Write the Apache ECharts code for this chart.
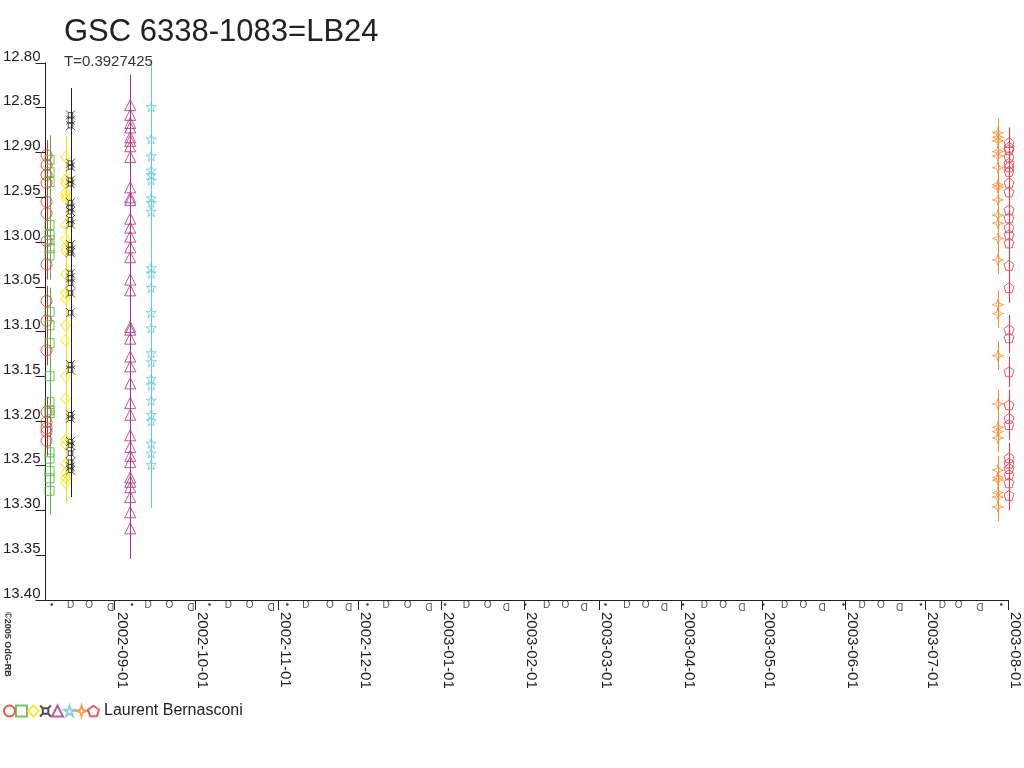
<!DOCTYPE html>
<html>
<head>
<meta charset="utf-8">
<title>GSC 6338-1083=LB24</title>
<script src="https://cdn.jsdelivr.net/npm/echarts@6/dist/echarts.min.js"></script>
<style>
  html, body { margin: 0; padding: 0; background: #fff; }
  #chart { width: 1024px; height: 768px; }
</style>
</head>
<body>
<div id="chart"></div>
<script>
const titleText = "GSC 6338-1083=LB24";
const periodText = "T=0.3927425";
const observer = "Laurent Bernasconi";
const copyrightText = "\u00a92005 OdG-RB";

// axis ranges
const xMin = "2002-08-06 04:00";
const xMax = "2003-08-01 00:00";
const yMin = 12.8;
const yMax = 13.4;
const yStep = 0.05;
const monthTicks = [
  "2002-09-01", "2002-10-01", "2002-11-01", "2002-12-01", "2003-01-01", "2003-02-01",
  "2003-03-01", "2003-04-01", "2003-05-01", "2003-06-01", "2003-07-01", "2003-08-01",
];

// one night per series
const nights = [
  "2002-08-06 13:00", "2002-08-07 16:00", "2002-08-13 16:00", "2002-08-15 12:00",
  "2002-09-06 20:00", "2002-09-14 16:00", "2003-07-28 06:00", "2003-08-01 09:00",
];
const errors = [0.017, 0.027, 0.023, 0.03, 0.034, 0.048, 0.016, 0.017];

const mag1 = [12.903, 12.914, 12.925, 12.934, 12.955, 12.968, 12.999, 13.025,
  13.066, 13.088, 13.121, 13.19, 13.201, 13.208, 13.212, 13.222];
const mag2 = [12.908, 12.922, 12.933, 12.981, 12.992, 12.998, 13.007, 13.015,
  13.078, 13.093, 13.113, 13.15, 13.179, 13.188, 13.191, 13.235, 13.242, 13.256,
  13.264, 13.278];
const mag3 = [12.905, 12.93, 12.934, 12.945, 12.949, 12.952, 12.981, 12.997,
  13.006, 13.01, 13.036, 13.057, 13.063, 13.093, 13.11, 13.15, 13.175, 13.221,
  13.226, 13.248, 13.258, 13.264, 13.269];
const mag4 = [12.858, 12.864, 12.87, 12.912, 12.916, 12.931, 12.935, 12.956,
  12.962, 12.966, 12.975, 12.98, 13.003, 13.009, 13.012, 13.035, 13.04, 13.046,
  13.057, 13.079, 13.137, 13.143, 13.193, 13.197, 13.223, 13.227, 13.236, 13.246,
  13.251, 13.255];
const mag5 = [12.847, 12.858, 12.867, 12.872, 12.883, 12.887, 12.893, 12.905,
  12.939, 12.95, 12.953, 12.974, 12.984, 12.994, 13.006, 13.017, 13.042, 13.054,
  13.095, 13.098, 13.108, 13.128, 13.139, 13.158, 13.18, 13.193, 13.216, 13.229,
  13.239, 13.246, 13.263, 13.268, 13.274, 13.285, 13.302, 13.32];
const mag6 = [12.849, 12.885, 12.904, 12.92, 12.925, 12.931, 12.951, 12.956,
  12.966, 13.029, 13.035, 13.051, 13.079, 13.096, 13.124, 13.134, 13.153, 13.16,
  13.177, 13.193, 13.2, 13.225, 13.236, 13.249];
const mag7 = [12.878, 12.883, 12.887, 12.899, 12.904, 12.917, 12.936, 12.939,
  12.953, 12.97, 12.979, 12.996, 13.02, 13.07, 13.08, 13.127, 13.181, 13.207,
  13.212, 13.219, 13.255, 13.263, 13.266, 13.28, 13.285, 13.296];
const mag8 = [12.889, 12.894, 12.897, 12.905, 12.912, 12.916, 12.921, 12.934,
  12.944, 12.964, 12.973, 12.984, 12.992, 13.001, 13.026, 13.051, 13.098, 13.107,
  13.145, 13.182, 13.197, 13.204, 13.241, 13.247, 13.253, 13.26, 13.269, 13.283];
const magnitudes = [mag1, mag2, mag3, mag4, mag5, mag6, mag7, mag8];

// moon phases shown under the time axis
const newMoons = ["2002-08-08", "2002-09-07", "2002-10-06", "2002-11-04", "2002-12-04",
  "2003-01-02", "2003-02-01", "2003-03-03", "2003-04-01", "2003-05-01", "2003-05-31",
  "2003-06-29", "2003-07-29"];
const firstQuarters = ["2002-08-15", "2002-09-13", "2002-10-13", "2002-11-11", "2002-12-11",
  "2003-01-10", "2003-02-09", "2003-03-11", "2003-04-09", "2003-05-09", "2003-06-07",
  "2003-07-07"];
const fullMoons = ["2002-08-22", "2002-09-21", "2002-10-21", "2002-11-20", "2002-12-19",
  "2003-01-18", "2003-02-16", "2003-03-18", "2003-04-16", "2003-05-16", "2003-06-14",
  "2003-07-13"];
const lastQuarters = ["2002-08-30", "2002-09-29", "2002-10-29", "2002-11-27", "2002-12-27",
  "2003-01-25", "2003-02-23", "2003-03-25", "2003-04-23", "2003-05-23", "2003-06-21",
  "2003-07-21"];
const moonRow = 13.406;

const colors = ["#f02828", "#4fb43c", "#ffe600", "#222222", "#b02d80", "#66c8dc", "#fa8a28", "#eb3240"];
const symbols = [
  "circle",
  "rect",
  "diamond",
  "path://M25 25H75V75H25ZM0 0L25 25M100 0L75 25M0 100L25 75M100 100L75 75",
  "triangle",
  "path://M50 0L61.2 34.6L97.6 34.5L68.1 55.9L79.4 90.5L50 69L20.6 90.5L31.9 55.9L2.4 34.5L38.8 34.6Z",
  "path://M50 0L62 38L100 50L62 62L50 100L38 62L0 50L38 38Z",
  "path://M50 0L97.6 34.5L79.4 90.5L20.6 90.5L2.4 34.5Z",
];
const symbolSizes = [11, 9, [10, 11], 9, 11, 10, 11, 10];

const FONT = "'Liberation Sans', Arial, sans-serif";

function toTime(s) {
  const parts = s.split(" ");
  return new Date(parts[0] + "T" + (parts[1] || "00:00")).getTime();
}

function fmtDate(v) {
  const d = new Date(v);
  return d.getFullYear() + "-" + String(d.getMonth() + 1).padStart(2, "0") + "-" +
    String(d.getDate()).padStart(2, "0");
}

const seriesNames = nights.map((n, i) => "night" + (i + 1));
const series = [];

// error bars first so the symbols sit on top
magnitudes.forEach((mags, i) => {
  const t = toTime(nights[i]);
  const color = colors[i];
  series.push({
    type: "custom",
    name: seriesNames[i] + "-err",
    silent: true,
    clip: false,
    z: 1,
    encode: { x: 0, y: [1, 2] },
    data: mags.map((m) => [t, m - errors[i], m + errors[i]]),
    renderItem: function (params, api) {
      const p1 = api.coord([api.value(0), api.value(1)]);
      const p2 = api.coord([api.value(0), api.value(2)]);
      const x = Math.round(p1[0]) + 0.5;
      return {
        type: "line",
        shape: { x1: x, y1: p1[1], x2: x, y2: p2[1] },
        style: { stroke: color, lineWidth: 1 },
      };
    },
  });
});

magnitudes.forEach((mags, i) => {
  const t = toTime(nights[i]);
  series.push({
    type: "scatter",
    name: seriesNames[i],
    clip: false,
    z: 2,
    symbol: symbols[i],
    symbolSize: symbolSizes[i],
    itemStyle: { color: "rgba(0,0,0,0)", borderColor: colors[i], borderWidth: 1 },
    emphasis: { disabled: true },
    data: mags.map((m) => [t, m]),
  });
});

function moonSeries(dates, glyph, rotate) {
  return {
    type: "scatter",
    silent: true,
    clip: false,
    symbolSize: 0,
    label: {
      show: true,
      position: "inside",
      formatter: glyph,
      rotate: rotate,
      fontSize: 10,
      fontFamily: FONT,
      color: "#222",
    },
    data: dates.map((d) => [toTime(d + " 12:00"), moonRow]),
  };
}
series.push(moonSeries(newMoons, "\u2022", 0));
series.push(moonSeries(firstQuarters, "D", 0));
series.push(moonSeries(fullMoons, "O", 0));
series.push(moonSeries(lastQuarters, "D", 180));

const chart = echarts.init(document.getElementById("chart"), null, { renderer: "canvas" });

const tickTimes = monthTicks.map(toTime);

const option = {
  animation: false,
  backgroundColor: "#fff",
  title: {
    text: titleText,
    subtext: periodText,
    left: 64,
    top: 17,
    padding: 0,
    itemGap: 6,
    textStyle: { fontFamily: FONT, fontSize: 31, fontWeight: "normal", color: "#222" },
    subtextStyle: { fontFamily: FONT, fontSize: 15, color: "#333" },
  },
  legend: {
    left: 3,
    top: 703,
    padding: 0,
    itemWidth: 11,
    itemHeight: 11,
    itemGap: -1,
    selectedMode: false,
    data: seriesNames,
    formatter: (name) => (name === seriesNames[seriesNames.length - 1] ? observer : ""),
    textStyle: { fontFamily: FONT, fontSize: 16, color: "#222" },
  },
  graphic: [
    {
      type: "text",
      x: 3,
      y: 612,
      rotation: -Math.PI / 2,
      style: {
        text: copyrightText,
        font: "bold 9px " + FONT,
        fill: "#333",
        textAlign: "left",
        textVerticalAlign: "bottom",
      },
    },
  ],
  grid: { left: 45, right: 16, top: 63, bottom: 168 },
  xAxis: {
    type: "value",
    min: toTime(xMin),
    max: toTime(xMax),
    splitLine: { show: false },
    axisLine: { lineStyle: { color: "#222", width: 1 } },
    axisTick: {
      show: true,
      length: 10,
      customValues: tickTimes,
      lineStyle: { color: "#222" },
    },
    axisLabel: {
      customValues: tickTimes,
      rotate: -90,
      margin: 12,
      verticalAlign: "bottom",
      fontFamily: FONT,
      fontSize: 15,
      color: "#222",
      formatter: (v) => fmtDate(v),
    },
  },
  yAxis: {
    type: "value",
    inverse: true,
    min: yMin,
    max: yMax,
    interval: yStep,
    splitLine: { show: false },
    axisLine: { show: true, lineStyle: { color: "#222", width: 1 } },
    axisTick: { show: true, length: 10, lineStyle: { color: "#222" } },
    axisLabel: {
      margin: 5,
      verticalAlign: "bottom",
      lineHeight: 13,
      fontFamily: FONT,
      fontSize: 15,
      color: "#222",
      formatter: (v) => v.toFixed(2),
    },
  },
  series: series,
};

chart.setOption(option);
</script>
</body>
</html>
